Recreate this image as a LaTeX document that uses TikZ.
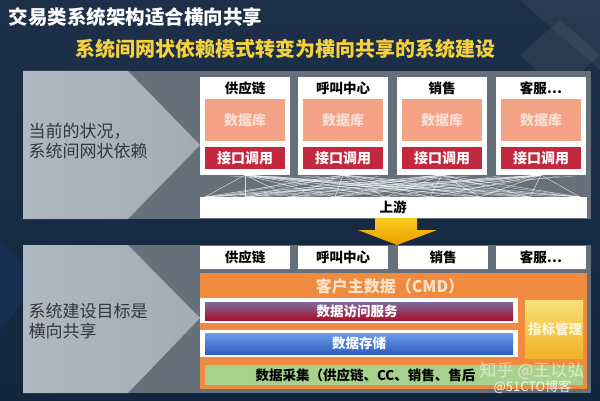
\documentclass[tikz,border=0pt]{standalone}
\usepackage{fontspec}
\setmainfont{Noto Sans CJK SC}
\definecolor{bgtop}{HTML}{1E3049}
\definecolor{bgbot}{HTML}{132640}
\definecolor{paneldark}{HTML}{66707A}
\definecolor{panellight}{HTML}{B3BBC2}
\definecolor{salmon}{HTML}{F3A285}
\definecolor{dbtext}{HTML}{FAE0D4}
\definecolor{crimson}{HTML}{C3283F}
\definecolor{cmdorange}{HTML}{F08A3E}
\definecolor{cmdtext}{HTML}{FCE3CC}
\definecolor{greenbar}{HTML}{A9D18E}
\definecolor{titleyellow}{HTML}{F5D23C}
\definecolor{lefttext}{HTML}{33383E}
\definecolor{accesstop}{HTML}{7C6A9E}
\definecolor{accessbot}{HTML}{A8102C}
\definecolor{storetop}{HTML}{6F9BE8}
\definecolor{storebot}{HTML}{2D5DBF}
\definecolor{kpitop}{HTML}{F9E07A}
\definecolor{kpibot}{HTML}{F0B226}
\definecolor{kpitext}{HTML}{FFF6D8}
\definecolor{arrowtop}{HTML}{F8C81C}
\definecolor{arrowbot}{HTML}{ECA000}
\tikzset{
  whitebox/.style={draw=none,fill=white},
  colname/.style={font=\bfseries\fontsize{13.5}{13.5}\selectfont,text=black,anchor=center},
  dbbox/.style={fill=salmon,draw=none},
  ifbox/.style={fill=crimson,draw=none},
  dbtxt/.style={font=\bfseries\fontsize{14}{14}\selectfont,text=dbtext},
  iftxt/.style={font=\bfseries\fontsize{14}{14}\selectfont,text=white},
  mesh/.style={draw=white,line width=0.5pt,opacity=0.75},
  lefttxt/.style={font=\fontsize{17}{20}\selectfont,text=lefttext,align=left,anchor=west},
  bartxt/.style={font=\bfseries\fontsize{13.5}{13.5}\selectfont,text=white}
}
\begin{document}
\begin{tikzpicture}[x=1pt,y=-1pt]
\useasboundingbox (0,0) rectangle (600,401);
% background
\shade[top color=bgtop,bottom color=bgbot] (0,0) rectangle (600,401);
\fill[white,opacity=0.05] (520,0) -- (600,0) -- (600,70) -- cycle;
\fill[white,opacity=0.06] (560,20) -- (600,55) -- (560,90) -- (520,55) -- cycle;
\fill[cyan!40!blue,opacity=0.12] (0,240) -- (40,280) -- (0,330) -- cycle;

% titles
\node[anchor=west,font=\bfseries\fontsize{19.5}{19.5}\selectfont,text=white] (title) at (5,17) {交易类系统架构适合横向共享};
\node[anchor=west,font=\bfseries\fontsize{20}{20}\selectfont,text=titleyellow] (subtitle) at (72,49) {系统间网状依赖模式转变为横向共享的系统建设};

% ===== upper panel =====
\fill[paneldark] (23,71) rectangle (591,219);
\shade[left color=panellight!105!white,right color=panellight!80!paneldark] (23,71) -- (128,71) -- (200,145) -- (128,219) -- (23,219) -- cycle;
\node[lefttxt] (curstate) at (25,141) {当前的状况，\\系统间网状依赖};

\foreach \i/\x/\name in {1/200/{供应链},2/298/{呼叫中心},3/397/{销售},4/496/{客服\ldots}}{
  \fill[whitebox] (\x,77) rectangle ++(90,98);
  \node[colname] (col\i) at (\x+45,88) {\name};
  \fill[dbbox] (\x+5,99) rectangle ++(80,42);
  \node[dbtxt] (db\i) at (\x+45,120) {数据库};
  \fill[ifbox] (\x+5,147) rectangle ++(80,22);
  \node[iftxt] (if\i) at (\x+45,158) {接口调用};
  \coordinate (bot\i) at (\x+45,175);
}
% upstream bar
\fill[white] (200,197) rectangle (587,218);
\node[font=\bfseries\fontsize{13.5}{13.5}\selectfont] (up) at (393,207.5) {上游};
\foreach \t in {205,225,245,265,290,315,335,360,385,410,430,455,480,505,530,555,580}{
  \coordinate (u\t) at (\t,197);
}
\foreach \i in {1,2,3,4}{
  \foreach \t in {205,245,290,335,385,430,480,530,580}{
    \draw[mesh] (bot\i) -- (u\t);
  }
}
\foreach \a/\b in {230/560,250/520,270/470,300/580,320/220,350/210,380/250,420/580,450/230,470/210,500/330,540/260,560/400,575/300}{
  \draw[mesh,opacity=0.5] (\a,176) -- (\b,197);
}

% arrow
\shade[top color=arrowtop,bottom color=arrowbot] (375,218) -- (417,218) -- (417,230) -- (437,230) -- (397,245) -- (358,230) -- (375,230) -- cycle;

% ===== lower panel =====
\fill[paneldark] (23,245) rectangle (591,393);
\shade[left color=panellight!105!white,right color=panellight!80!paneldark] (23,245) -- (128,245) -- (200,318) -- (128,393) -- (23,393) -- cycle;
\node[lefttxt] (goal) at (25,321) {系统建设目标是\\横向共享};

\foreach \i/\x/\name in {1/200/{供应链},2/298/{呼叫中心},3/398/{销售},4/496/{客服\ldots}}{
  \fill[whitebox] (\x,246) rectangle ++(90,23);
  \node[colname] (lcol\i) at (\x+45,257.5) {\name};
}
% CMD
\fill[cmdorange] (200,273) rectangle (587,389);
\node[font=\bfseries\fontsize{16}{16}\selectfont,text=cmdtext] (cmd) at (390,286) {客户主数据（CMD）};
% data access
\fill[white] (200,298) rectangle (518,323);
\shade[top color=accesstop, bottom color=accessbot] (205,302) rectangle (513,320);
\node[bartxt] (access) at (357,311) {数据访问服务};
% storage
\fill[white] (200,330) rectangle (518,357);
\shade[top color=storetop,bottom color=storebot] (205,333) rectangle (513,354);
\node[bartxt] (store) at (359,343.5) {数据存储};
% indicator
\shade[top color=kpitop,bottom color=kpibot] (525,300) rectangle (583,358);
\node[font=\bfseries\fontsize{13.5}{13.5}\selectfont,text=kpitext] (kpi) at (555,329) {指标管理};
% green collection
\fill[greenbar] (205,365) rectangle (583,385);
\node[anchor=west,font=\bfseries\fontsize{13.5}{13.5}\selectfont,text=black] (collect) at (252,375) {数据采集（供应链、CC、销售、售后};

% watermarks
\node[anchor=west,font=\fontsize{17}{17}\selectfont,text=white,opacity=0.55] (wm1) at (476,371) {知乎 @王以弘};
\node[anchor=west,font=\fontsize{13}{13}\selectfont,text=white,opacity=0.9] (wm2) at (490,387) {@51CTO博客};
\end{tikzpicture}
\end{document}
